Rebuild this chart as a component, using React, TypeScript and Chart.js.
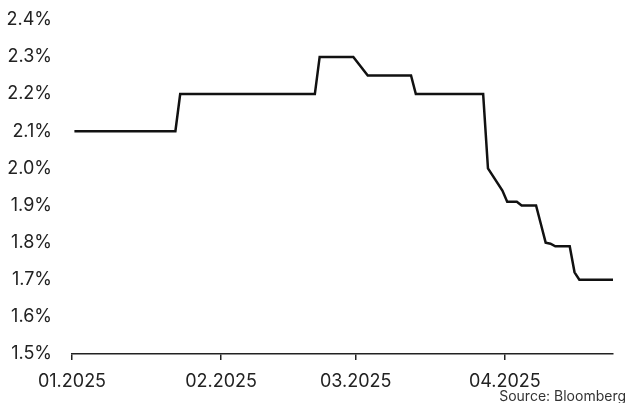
import React, { useEffect, useRef } from "react";
import { Chart, registerables } from "chart.js";

Chart.register(...registerables);

// Data (business days, policy-rate expectation in %)
const DATES = [
  "2025-01-01", "2025-01-22", "2025-01-23", "2025-02-20", "2025-02-21",
  "2025-02-28", "2025-03-03", "2025-03-12", "2025-03-13", "2025-03-27",
  "2025-03-28", "2025-03-31", "2025-04-01", "2025-04-02", "2025-04-03",
  "2025-04-04", "2025-04-07", "2025-04-08", "2025-04-09", "2025-04-10",
  "2025-04-11", "2025-04-14", "2025-04-15", "2025-04-16", "2025-04-23",
];
const RATES = [
  2.10, 2.10, 2.20, 2.20, 2.30,
  2.30, 2.25, 2.25, 2.20, 2.20,
  2.00, 1.94, 1.91, 1.91, 1.91,
  1.90, 1.90, 1.85, 1.80, 1.797,
  1.79, 1.79, 1.72, 1.70, 1.70,
];
const X_TICK_DATES = ["2025-01-01", "2025-02-01", "2025-03-01", "2025-04-01"];
const X_TICK_LABELS = ["01.2025", "02.2025", "03.2025", "04.2025"];
const Y_MIN = 1.5;
const Y_MAX = 2.4;
const Y_STEP = 0.1;
const SOURCE = "Source: Bloomberg";

const ORIGIN = Date.UTC(2025, 0, 1);
const DAY_MS = 86400000;
const toDay = (s: string) => (Date.parse(s + "T00:00:00Z") - ORIGIN) / DAY_MS;
const OBS_HOUR = 12; // observations at midday

const FONT = "Inter, 'Noto Sans', sans-serif";

export default function App() {
  const ref = useRef<HTMLCanvasElement | null>(null);

  useEffect(() => {
    document.body.style.margin = "0";
    const points = DATES.map((d, i) => ({ x: toDay(d) + OBS_HOUR / 24, y: RATES[i] }));
    const tickValues = X_TICK_DATES.map(toDay);

    const sourcePlugin = {
      id: "sourceText",
      afterDraw(chart: any) {
        const ctx = chart.ctx;
        ctx.save();
        ctx.font = `14px ${FONT}`;
        ctx.fillStyle = "#333";
        ctx.textAlign = "right";
        ctx.textBaseline = "alphabetic";
        ctx.fillText(SOURCE, chart.width - 1, chart.height - 2);
        ctx.restore();
      },
    };

    const chart = new Chart(ref.current!, {
      type: "line",
      data: {
        datasets: [
          {
            data: points,
            borderColor: "#111",
            borderWidth: 2.5,
            pointRadius: 0,
            tension: 0,
            fill: false,
          },
        ],
      },
      options: {
        animation: false,
        responsive: true,
        maintainAspectRatio: false,
        layout: { padding: { top: 0, right: 14, left: 0, bottom: 0 } },
        plugins: { legend: { display: false }, tooltip: { enabled: false } },
        scales: {
          x: {
            type: "linear",
            min: 0,
            max: points[points.length - 1].x,
            afterBuildTicks: (scale: any) => {
              scale.ticks = tickValues.map((v) => ({ value: v }));
            },
            afterFit: (scale: any) => {
              scale.height = 49;
            },
            ticks: {
              autoSkip: false,
              maxRotation: 0,
              padding: 11,
              color: "#222",
              font: { family: FONT, size: 18 },
              callback: (_v: any, i: number) => X_TICK_LABELS[i],
            },
            grid: {
              drawOnChartArea: false,
              drawTicks: true,
              tickLength: 6,
              color: "#222",
              lineWidth: 1.5,
            },
            border: { display: true, color: "#222", width: 1.5 },
          },
          y: {
            min: Y_MIN,
            max: Y_MAX,
            afterFit: (scale: any) => {
              scale.width = 72;
            },
            ticks: {
              stepSize: Y_STEP,
              padding: 9,
              color: "#222",
              font: { family: FONT, size: 18 },
              callback: (v: any) => Number(v).toFixed(1) + "%",
            },
            grid: {
              display: true,
              drawOnChartArea: false,
              drawTicks: true,
              tickLength: 11,
              color: "rgba(0,0,0,0)",
            },
            border: { display: false },
          },
        },
      },
      plugins: [sourcePlugin],
    });
    return () => chart.destroy();
  }, []);

  return (
    <div style={{ position: "absolute", left: 0, top: 0, width: 627, height: 403 }}>
      <canvas ref={ref} />
    </div>
  );
}
